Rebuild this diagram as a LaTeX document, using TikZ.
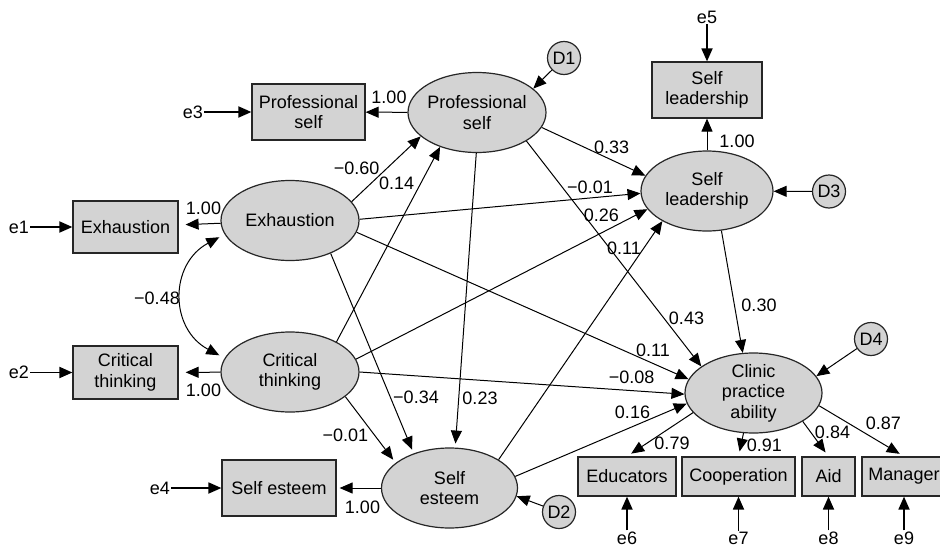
\documentclass[tikz,border=0pt]{standalone}
\usepackage{fontspec}
\setmainfont{Liberation Sans}
\usetikzlibrary{arrows.meta,shapes.geometric}

\definecolor{semgray}{RGB}{211,211,211}

\tikzset{
  every node/.style={font=\fontsize{18}{20.5}\selectfont},
  obs/.style={draw=black!85, line width=1.2pt, fill=semgray, minimum height=56pt, inner sep=0pt, align=center},
  lat/.style={draw=black!85, line width=1.2pt, fill=semgray, ellipse, minimum width=138pt, minimum height=80pt, inner sep=-8pt, align=center},
  dist/.style={draw=black!85, line width=1.2pt, fill=semgray, circle, minimum size=33pt, inner sep=0pt},
  err/.style={inner sep=1pt},
  wt/.style={inner sep=0pt},
  reg/.style={-{Triangle[length=13pt,width=11pt]}, line width=1pt},
  res/.style={-{Triangle[length=13pt,width=11pt]}, line width=1.8pt},
  cov/.style={{Triangle[length=13pt,width=11pt]}-{Triangle[length=13pt,width=11pt]}, line width=1pt}
}

\begin{document}
\begin{tikzpicture}[x=1pt, y=1pt]
    \useasboundingbox (0,0) rectangle (940,-549);
    % latent
    \node [lat]                       (prof) at (477,-112.5)  {Professional\\self};
    \node [lat]                       (exh)  at (290,-220.5)  {Exhaustion};
    \node [lat]                       (crit) at (290,-372)    {Critical\\thinking};
    \node [lat, minimum width=136pt]  (se)   at (449.5,-488)  {Self\\esteem};
    \node [lat, minimum width=132pt]  (sl)   at (707,-191)    {Self\\leadership};
    \node [lat, minimum width=137pt]  (cpa)  at (753.5,-393)  {Clinic\\practice\\ability};
    % observed
    \node [obs, minimum width=113pt]                     (pbox)  at (308.5,-112)  {Professional\\self};
    \node [obs, minimum width=105pt, minimum height=52pt] (ebox)  at (125.5,-227)  {Exhaustion};
    \node [obs, minimum width=105pt, minimum height=53pt] (cbox)  at (125.5,-372.5) {Critical\\thinking};
    \node [obs, minimum width=114pt]                     (sebox) at (279,-488)    {Self esteem};
    \node [obs, minimum width=110pt]                     (slbox) at (707,-90)     {Self\\leadership};
    \node [obs, minimum width=98pt, minimum height=39pt]  (edu)   at (627,-476.5)  {Educators};
    \node [obs, minimum width=113pt, minimum height=39pt] (coop)  at (738.5,-476.5) {Cooperation};
    \node [obs, minimum width=53pt, minimum height=39pt]  (aid)   at (828.5,-476.5) {Aid};
    \node [obs, minimum width=84pt, minimum height=39pt]  (man)   at (904,-476.5)  {Manager};
    % disturbances
    \node [dist] (d1) at (564,-58)    {D1};
    \node [dist] (d2) at (559,-512)   {D2};
    \node [dist] (d3) at (829,-191.5) {D3};
    \node [dist] (d4) at (871,-339)   {D4};
    % errors
    \node [err] (e1) at (19,-227)  {e1};
    \node [err] (e2) at (19,-372.5) {e2};
    \node [err] (e3) at (193,-112) {e3};
    \node [err] (e4) at (160,-488) {e4};
    \node [err] (e5) at (707,-17)  {e5};
    \node [err] (e6) at (627,-538) {e6};
    \node [err] (e7) at (738.5,-538) {e7};
    \node [err] (e8) at (828.5,-538) {e8};
    \node [err] (e9) at (904,-538) {e9};
    \draw [res] (e1) -- (ebox);
    \draw [res] (e2) -- (cbox);
    \draw [res] (e3) -- (pbox);
    \draw [res] (e4) -- (sebox);
    \draw [res] (e5) -- (slbox);
    \draw [res] (e6) -- (edu);
    \draw [res] (e7) -- (coop);
    \draw [res] (e8) -- (aid);
    \draw [res] (e9) -- (man);
    % loadings
    \draw [reg]                  (prof) -- (pbox);
    \draw [reg, shorten >=7pt]   (exh) -- (ebox);
    \draw [reg, shorten >=7pt]   (crit) -- (cbox);
    \draw [reg, shorten >=3pt]   (se) -- (sebox);
    \draw [reg]                  (sl) -- (slbox);
    \draw [reg, shorten >=5pt]   (cpa.198) -- (edu.north);
    \draw [reg, shorten >=5pt]   (cpa.256) -- (coop.north);
    \draw [reg, shorten >=5pt]   (cpa.330) -- (aid.north);
    \draw [reg, shorten >=5pt]   (cpa.349) -- (man.north);
    % disturbance arrows
    \draw [reg] (d1) -- (prof.23);
    \draw [reg] (d2) -- (se.353);
    \draw [reg] (d3) -- (sl);
    \draw [reg] (d4) -- (cpa.15);
    % structural paths
    \draw [reg] (exh.17)   -- (prof.203);
    \draw [reg] (crit.33)  -- (prof.223);
    \draw [reg] (prof.347) -- (sl.166);
    \draw [reg] (exh.1)    -- (sl.182);
    \draw [reg] (crit.11)  -- (sl.197);
    \draw [reg] (se.30)    -- (sl.214);
    \draw [reg] (sl.290)   -- (cpa.105);
    \draw [reg] (prof.330) -- (cpa.153);
    \draw [reg] (exh.350)  -- (cpa.168);
    \draw [reg] (crit.0)   -- (cpa.181);
    \draw [reg] (se.10)    -- (cpa.189);
    \draw [reg, shorten >=4pt] (prof.269) -- (se.82);
    \draw [reg, shorten >=4pt] (exh.321)  -- (se.136);
    \draw [reg, shorten >=4pt] (crit.336) -- (se.155);
    \draw [cov, shorten <=6pt, shorten >=6pt] (exh.192) to [out=208, in=152, looseness=1.3] (crit.168);
    % coefficients
    \node [wt] (lp)  at (389,-97)     {1.00};
    \node [wt] (le)  at (203.5,-208)  {1.00};
    \node [wt] (lc)  at (203.5,-390)  {1.00};
    \node [wt] (ls)  at (362.5,-507)  {1.00};
    \node [wt] (ll)  at (737,-141)    {1.00};
    \node [wt] (b1)  at (356.7,-168)  {−0.60};
    \node [wt] (b2)  at (396.7,-183)  {0.14};
    \node [wt] (b3)  at (611.7,-147)  {0.33};
    \node [wt] (b4)  at (590,-187)    {−0.01};
    \node [wt] (b5)  at (601.3,-215)  {0.26};
    \node [wt] (b6)  at (624,-248)    {0.11};
    \node [wt] (b7)  at (759,-305)    {0.30};
    \node [wt] (b8)  at (686.5,-318)  {0.43};
    \node [wt] (b9)  at (653,-350)    {0.11};
    \node [wt] (b10) at (631.7,-377)  {−0.08};
    \node [wt] (b11) at (632.5,-412)  {0.16};
    \node [wt] (b12) at (480,-398)    {0.23};
    \node [wt] (b13) at (416,-397)    {−0.34};
    \node [wt] (b14) at (345.3,-435)  {−0.01};
    \node [wt] (r1)  at (157,-298)    {−0.48};
    \node [wt] (m1)  at (672,-443)    {0.79};
    \node [wt] (m2)  at (764.3,-445)  {0.91};
    \node [wt] (m3)  at (832.5,-432)  {0.84};
    \node [wt] (m4)  at (883.3,-423)  {0.87};
\end{tikzpicture}
\end{document}
